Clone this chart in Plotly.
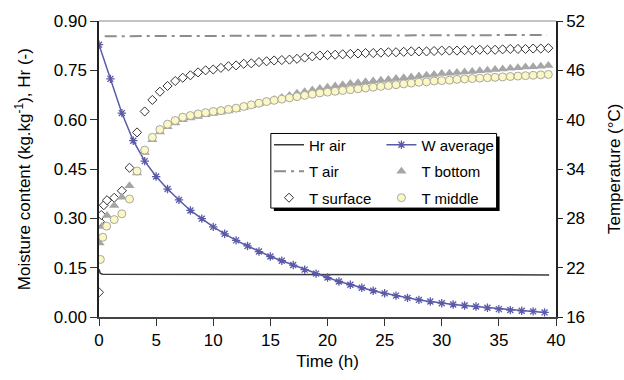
import plotly.graph_objects as go

# ---------------- data ----------------
t_w = [0, 1, 2, 3, 4, 5, 6, 7, 8, 9, 10, 11, 12, 13, 14, 15, 16, 17, 18, 19,
       20, 21, 22, 23, 24, 25, 26, 27, 28, 29, 30, 31, 32, 33, 34, 35, 36, 37, 38, 39]
w_average = [0.828, 0.724, 0.620, 0.536, 0.474, 0.427, 0.389, 0.356, 0.324, 0.299,
             0.274, 0.253, 0.233, 0.216, 0.199, 0.184, 0.171, 0.158, 0.144, 0.132,
             0.120, 0.108, 0.098, 0.089, 0.080, 0.072, 0.065, 0.058, 0.052, 0.047,
             0.042, 0.038, 0.035, 0.032, 0.028, 0.024, 0.021, 0.019, 0.017, 0.014]

t_hr = [0, 0.1, 0.3, 39.4]
hr_air = [0.145, 0.133, 0.130, 0.128]

t_air = [0.5, 10, 20, 30, 39.2]
temp_air = [50.15, 50.2, 50.25, 50.3, 50.3]

t_main = [3.33, 4.0, 4.67, 5.33, 6.0, 6.67, 7.33, 8.0, 8.67, 9.33, 10.0, 10.67, 11.33,
          12.0, 12.67, 13.33, 14.0, 14.67, 15.33, 16.0, 16.67, 17.33, 18.0, 18.67,
          19.33, 20.0, 20.67, 21.33, 22.0, 22.67, 23.33, 24.0, 24.67, 25.33, 26.0,
          26.67, 27.33, 28.0, 28.67, 29.33, 30.0, 30.67, 31.33, 32.0, 32.67, 33.33,
          34.0, 34.67, 35.33, 36.0, 36.67, 37.33, 38.0, 38.67, 39.33]

t_surface_early = [0.0, 0.08, 0.2, 0.42, 0.7, 1.33, 2.0, 2.67]
temp_surface_early = [19.0, 27.6, 28.4, 29.6, 30.2, 30.5, 31.35, 34.15]
temp_surface_main = [38.45, 41.0, 42.4, 43.4, 44.1, 44.7, 45.1, 45.4, 45.75, 46.0, 46.1,
                     46.3, 46.5, 46.6, 46.8, 46.85, 47.0, 47.1, 47.2, 47.25, 47.3, 47.4,
                     47.55, 47.7, 47.8, 47.85, 47.9, 47.95, 48.0, 48.05, 48.1, 48.1,
                     48.15, 48.2, 48.2, 48.25, 48.3, 48.3, 48.3, 48.35, 48.4, 48.4, 48.4,
                     48.45, 48.45, 48.5, 48.5, 48.5, 48.55, 48.6, 48.6, 48.6, 48.65,
                     48.65, 48.7]

t_bottom_early = [0.05, 0.25, 0.7, 1.33, 2.0, 2.67]
temp_bottom_early = [25.0, 27.0, 28.35, 29.55, 30.55, 31.95]
temp_bottom_main = [33.5, 36.0, 37.55, 38.5, 39.15, 39.6, 40.0, 40.2, 40.4, 40.6, 40.75,
                    40.9, 41.05, 41.25, 41.45, 41.7, 41.95, 42.2, 42.45, 42.7, 42.95,
                    43.2, 43.4, 43.6, 43.8, 43.95, 44.1, 44.25, 44.4, 44.5, 44.6, 44.7,
                    44.8, 44.9, 45.0, 45.1, 45.2, 45.3, 45.4, 45.5, 45.6, 45.65, 45.75,
                    45.8, 45.85, 45.95, 46.0, 46.1, 46.15, 46.25, 46.3, 46.4, 46.45,
                    46.5, 46.6]

t_middle_early = [0.12, 0.33, 0.67, 1.33, 2.0, 2.67]
temp_middle_early = [23.0, 25.7, 27.05, 27.85, 28.55, 30.35]
temp_middle_main = [33.75, 36.3, 37.85, 38.8, 39.45, 39.9, 40.3, 40.5, 40.7, 40.85, 41.0,
                    41.1, 41.25, 41.4, 41.6, 41.8, 42.0, 42.2, 42.35, 42.5, 42.65, 42.8,
                    42.95, 43.1, 43.25, 43.35, 43.45, 43.55, 43.65, 43.75, 43.85, 43.95,
                    44.05, 44.15, 44.25, 44.35, 44.45, 44.55, 44.6, 44.7, 44.75, 44.8,
                    44.9, 44.95, 45.0, 45.05, 45.1, 45.15, 45.2, 45.25, 45.3, 45.35,
                    45.4, 45.45, 45.5]

x_ticks = [0, 5, 10, 15, 20, 25, 30, 35, 40]
y_left_ticks = [0.0, 0.15, 0.30, 0.45, 0.60, 0.75, 0.90]
y_right_ticks = [16, 22, 28, 34, 40, 46, 52]

FONT = "Liberation Sans, Arial, sans-serif"

fig = go.Figure()

fig.add_trace(go.Scatter(x=t_hr, y=hr_air, name="Hr air", mode="lines",
                         line=dict(color="#3a3a3a", width=1.5),
                         legend="legend", legendgroup="a"))
fig.add_trace(go.Scatter(x=t_w, y=w_average, name="W average", mode="lines+markers",
                         line=dict(color="#5a5aa8", width=1.5),
                         marker=dict(symbol="asterisk-open", size=7,
                                     line=dict(color="#2e2e9e", width=1.3)),
                         legend="legend2", legendgroup="b"))
fig.add_trace(go.Scatter(x=t_air, y=temp_air, name="T air", mode="lines",
                         line=dict(color="#8c8c8c", width=2, dash="12px,5px,3px,5px"),
                         yaxis="y2", legend="legend", legendgroup="c"))
fig.add_trace(go.Scatter(x=t_surface_early + t_main,
                         y=temp_surface_early + temp_surface_main,
                         name="T surface", mode="markers",
                         marker=dict(symbol="diamond", size=7, color="white",
                                     line=dict(color="#333333", width=1)),
                         yaxis="y2", legend="legend", legendgroup="e"))
fig.add_trace(go.Scatter(x=t_bottom_early + t_main,
                         y=temp_bottom_early + temp_bottom_main,
                         name="T bottom", mode="markers",
                         marker=dict(symbol="triangle-up", size=9, color="#a6a6a6",
                                     line=dict(width=0)),
                         yaxis="y2", legend="legend2", legendgroup="d"))
fig.add_trace(go.Scatter(x=t_middle_early + t_main,
                         y=temp_middle_early + temp_middle_main,
                         name="T middle", mode="markers",
                         marker=dict(symbol="circle", size=8, color="#fbf8c4",
                                     line=dict(color="#a8a8a0", width=1)),
                         yaxis="y2", legend="legend2", legendgroup="f"))

# legend box with shadow (paper coords)
x0, x1, y0, y1 = 0.376, 0.870, 0.368, 0.620
dx, dy = 3 / 457, 3 / 301
shapes = [
    dict(type="rect", xref="paper", yref="paper", x0=x0 + dx, x1=x1 + dx,
         y0=y0 - dy, y1=y1 - dy, fillcolor="black", line=dict(width=0), layer="above"),
    dict(type="rect", xref="paper", yref="paper", x0=x0, x1=x1, y0=y0, y1=y1,
         fillcolor="white", line=dict(color="black", width=1), layer="above"),
    dict(type="line", xref="paper", yref="paper", x0=0, x1=1, y0=1, y1=1,
         line=dict(color="#b0b0b0", width=1.5), layer="above"),
]

annotations = [
    dict(text="Moisture content (kg.kg<sup>-1</sup>), Hr (-)", xref="paper",
         yref="paper", x=-0.166, y=0.5, textangle=-90, showarrow=False,
         xanchor="center", yanchor="middle", font=dict(family=FONT, size=17)),
    dict(text="Temperature (°C)", xref="paper", yref="paper", x=1.127, y=0.5,
         textangle=-90, showarrow=False, xanchor="center", yanchor="middle",
         font=dict(family=FONT, size=17)),
]

legend_common = dict(bgcolor="rgba(0,0,0,0)", borderwidth=0,
                     font=dict(family=FONT, size=15, color="black"),
                     yanchor="top", xanchor="left", tracegroupgap=4,
                     itemwidth=30)

fig.update_layout(
    width=624, height=380,
    margin=dict(l=99, r=68, t=19, b=60),
    paper_bgcolor="white", plot_bgcolor="white",
    font=dict(family=FONT, size=17, color="black"),
    showlegend=True,
    legend=dict(x=0.372, y=0.637, **legend_common),
    legend2=dict(x=0.618, y=0.637, **legend_common),
    shapes=shapes,
    annotations=annotations,
    xaxis=dict(range=[0, 40], tickvals=x_ticks, ticks="outside", ticklen=7,
               tickcolor="#333", showline=True, linecolor="#444", linewidth=1.5,
               showgrid=False, zeroline=False,
               title=dict(text="Time (h)", standoff=6,
                          font=dict(family=FONT, size=17))),
    yaxis=dict(range=[0, 0.9], tickvals=y_left_ticks, tickformat=".2f",
               ticks="outside", ticklen=7, tickcolor="#333", showline=True,
               linecolor="#222", linewidth=1.5, showgrid=False, zeroline=False),
    yaxis2=dict(range=[16, 52], tickvals=y_right_ticks, overlaying="y", side="right",
                ticks="outside", ticklen=5, tickcolor="#222", showline=True,
                linecolor="#222", linewidth=1.5, showgrid=False, zeroline=False),
)

fig.write_html("out.html")
